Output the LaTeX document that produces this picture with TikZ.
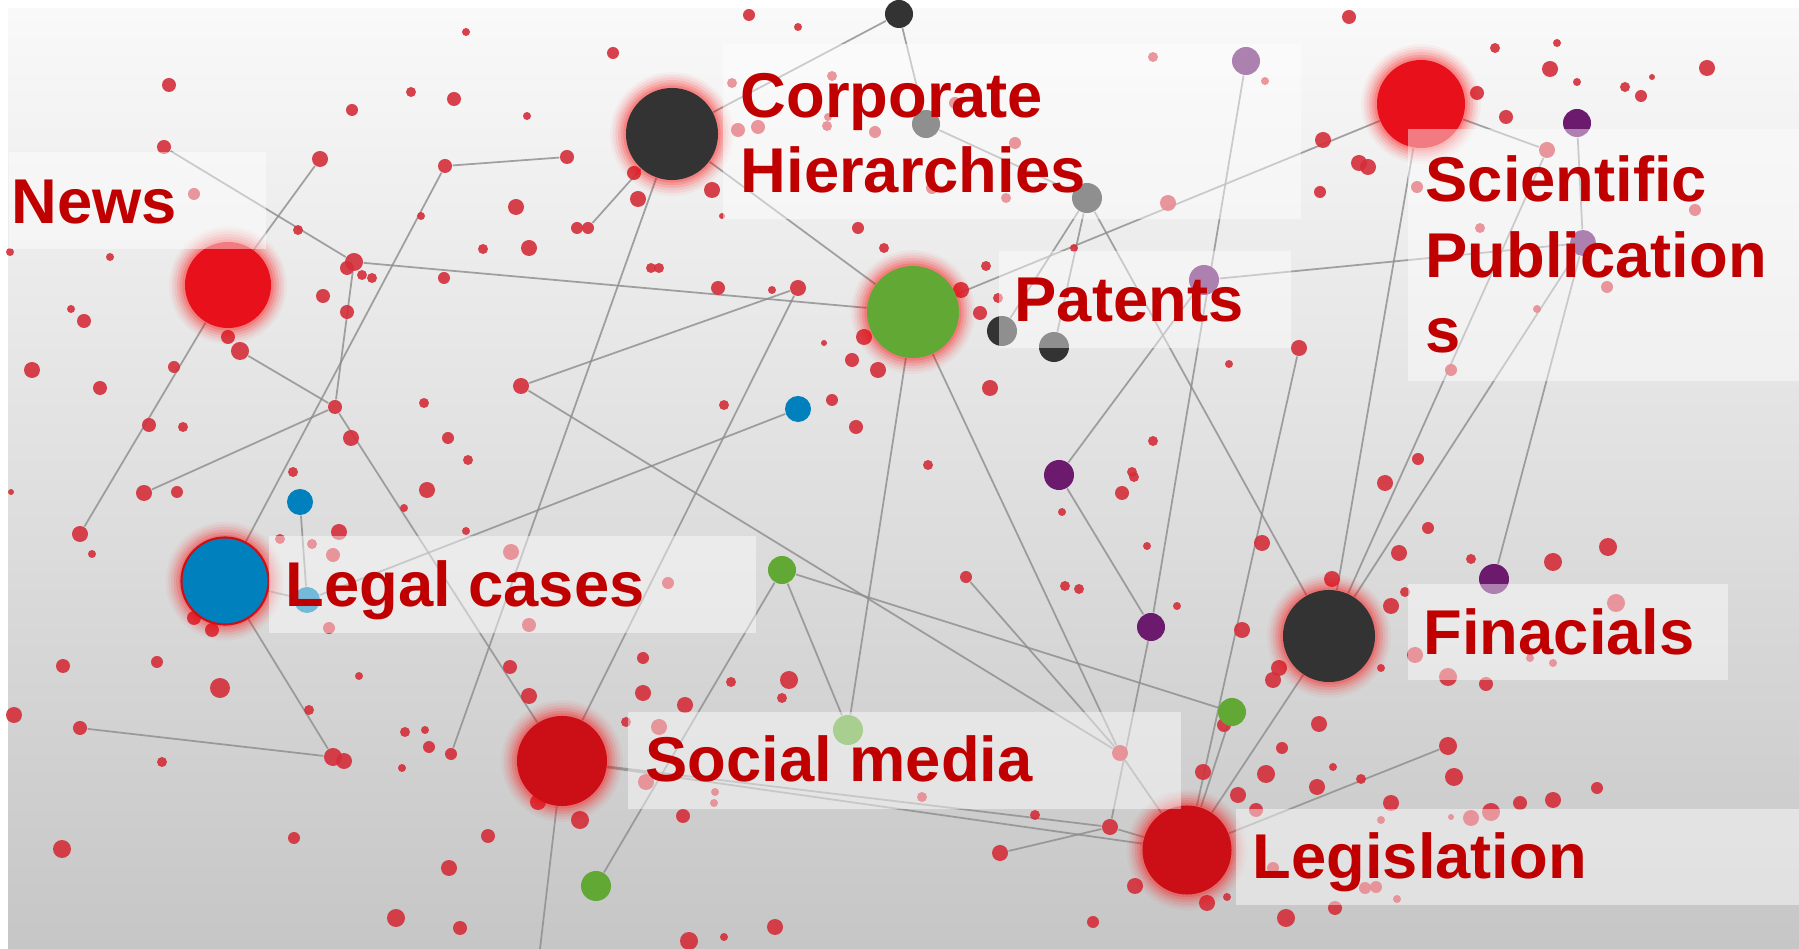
\documentclass[tikz,border=0pt]{standalone}
\usepackage{fontspec}
\setmainfont{Liberation Sans}
\usetikzlibrary{positioning}
\pgfdeclarelayer{back}
\pgfdeclarelayer{edges}
\pgfdeclarelayer{front}
\pgfsetlayers{back,edges,main,front}
\definecolor{lblred}{RGB}{192,0,0}
\definecolor{dotred}{RGB}{212,46,58}
\definecolor{hotred}{RGB}{232,16,26}
\definecolor{deepred}{RGB}{204,14,22}
\definecolor{coal}{RGB}{51,51,51}
\definecolor{leaf}{RGB}{98,168,52}
\definecolor{sea}{RGB}{0,128,188}
\definecolor{plum}{RGB}{107,26,110}
\definecolor{wire}{RGB}{140,140,140}
\definecolor{bgtop}{RGB}{249,249,249}
\definecolor{bgmid}{RGB}{226,226,226}
\definecolor{bgbot}{RGB}{198,198,198}
\tikzset{
  dot/.style={circle, fill=dotred, fill opacity=0.9, inner sep=0pt, minimum size=#1},
  ball/.style={circle, inner sep=0pt, minimum size=#1},
  hub/.style={circle, inner sep=0pt, minimum size=#1,
    preaction={draw=red, draw opacity=0.04, line width=9pt},
    preaction={draw=red, draw opacity=0.06, line width=7.5pt},
    preaction={draw=red, draw opacity=0.08, line width=6pt},
    preaction={draw=red, draw opacity=0.10, line width=4.5pt},
    preaction={draw=red, draw opacity=0.13, line width=3pt},
    preaction={draw=red, draw opacity=0.16, line width=1.5pt}},
  link/.style={draw=wire, line width=0.5pt, draw opacity=0.8},
  lblbox/.style={fill=white, fill opacity=0.45, inner sep=0pt, anchor=north west},
  lbl/.style={text=lblred, font=\fontsize{18}{21.6}\selectfont\bfseries,
    inner sep=0pt, anchor=base west, align=left}
}
\begin{document}
\begin{tikzpicture}[x=0.01cm, y=-0.01cm]
\useasboundingbox (0,0) rectangle (1799,949);
\begin{pgfonlayer}{back}
\fill[white] (0,0) rectangle (1799,949);
\shade[top color=bgtop, middle color=bgmid, bottom color=bgbot] (8,9) rectangle (1799,949);
\end{pgfonlayer}

\foreach \x/\y/\r in {749/15/6, 798/27/4, 466/32/4, 613/53/6, 169/85/7, 411/92/5,
  454/99/7, 352/110/6, 527/116/4, 634/173/7, 712/190/8, 732/83/5, 738/130/7,
  758/127/7, 827/126/5, 875/132/6, 194/194/6, 516/207/8, 638/199/8, 577/228/6,
  421/216/4, 722/216/3, 858/228/6, 298/230/5, 483/249/5, 529/248/8, 884/248/5,
  10/252/4, 110/257/4, 347/268/7, 362/275/5, 372/278/5, 444/278/6, 651/268/5,
  659/268/5, 718/288/7, 772/290/4, 71/309/4, 84/321/7, 323/296/7, 347/312/7,
  228/337/7, 824/343/3, 864/337/8, 852/360/7, 878/370/8, 32/370/8, 100/388/7,
  174/367/6, 424/403/5, 724/405/5, 832/400/6, 149/425/7, 183/427/5, 351/438/8,
  448/438/6, 468/460/5, 856/427/7, 293/472/5, 832/76/5, 828/117/4,
  1349/17/7, 1153/57/5, 1265/81/4, 1495/48/5, 1557/43/4, 1550/69/8, 1577/82/4,
  1625/87/5, 1641/96/6, 1652/77/3, 1707/68/8, 1477/93/7, 1506/117/7, 1323/140/8,
  1359/163/8, 1368/167/8, 1320/192/6, 1015/143/6, 955/103/6, 932/188/6,
  1006/198/5, 1168/203/8, 1417/187/6, 1695/210/6, 1480/228/5, 1607/287/6,
  1537/309/4, 1451/370/6, 1074/248/4, 986/266/5, 961/290/8, 998/298/5, 980/313/7,
  1229/364/4, 990/388/8, 1153/441/5, 928/465/5, 1418/459/6, 1132/472/5,
  11/492/3, 177/492/6, 92/554/4, 427/490/8, 404/508/4, 339/532/8, 466/531/4,
  280/539/5, 312/544/5, 333/555/7, 329/628/6, 511/552/8, 668/583/6, 529/625/7,
  194/618/7, 212/630/7, 63/666/7, 157/662/6, 359/676/4, 220/688/10, 510/667/7,
  643/658/6, 731/682/5, 789/680/9, 782/698/5, 643/693/8, 685/705/8, 529/696/8,
  14/715/8, 309/710/5, 405/732/5, 425/730/4, 429/747/6, 344/761/8, 162/762/5,
  402/768/4, 626/722/5, 659/727/8, 646/782/8, 715/792/4, 714/803/4, 538/802/8,
  580/820/9, 683/816/7, 294/838/6, 488/836/7, 62/849/9, 449/868/8, 396/918/9,
  460/928/7, 689/941/9, 724/937/4, 775/927/8, 922/797/5,
  1134/477/5, 1122/493/7, 1062/512/4, 1385/483/8, 1147/546/4, 1262/543/8,
  1428/528/6, 1399/553/8, 1471/559/5, 1553/562/9, 1608/547/9, 1065/586/5,
  1079/589/5, 1332/579/8, 1405/592/5, 1391/606/8, 1177/606/4, 1242/630/8,
  1279/668/8, 1273/680/8, 1381/668/4, 1415/655/8, 1448/677/9, 1486/684/7,
  1616/603/9, 1530/658/4, 1553/663/4, 1319/724/8, 1224/725/7, 1282/748/6,
  1333/767/4, 1454/777/9, 1203/772/8, 1266/774/9, 1317/787/8, 1361/779/5,
  1597/788/6, 1238/795/8, 1256/810/7, 1391/803/8, 1553/800/8, 1520/803/7,
  1491/812/9, 1471/818/8, 1451/817/3, 1381/820/4, 1035/815/5, 1135/886/8,
  1207/903/8, 1227/897/4, 1273/868/6, 1365/888/6, 1376/887/6, 1397/899/4,
  1286/918/9, 1335/908/7, 1093/922/6}
  \fill[dotred, fill opacity=0.9] (\x,\y) circle (\r);

\node[dot=1.4mm] (a1) at (164,147) {};
\node[dot=1.6mm] (c1) at (320,159) {};
\node[dot=1.8mm] (b1) at (354,262) {};
\node[dot=1.4mm] (d1) at (335,407) {};
\node[dot=1.4mm] (e1) at (445,166) {};
\node[dot=1.4mm] (e2) at (567,157) {};
\node[dot=1.2mm] (f1) at (588,228) {};
\node[dot=1.8mm] (g1) at (240,351) {};
\node[dot=1.6mm] (h1) at (144,493) {};
\node[dot=1.6mm] (k1) at (80,534) {};
\node[dot=1.4mm] (m1) at (80,728) {};
\node[dot=1.8mm] (m2) at (333,757) {};
\node[dot=1.2mm] (p1) at (451,754) {};
\node[dot=1.6mm] (q1) at (521,386) {};
\node[dot=1.6mm] (q2) at (798,288) {};
\node[dot=1.2mm] (r1) at (966,577) {};
\node[dot=1.6mm] (pk) at (1120,753) {};
\node[dot=1.6mm] (s1) at (1110,827) {};
\node[dot=1.6mm] (s2) at (1000,853) {};
\node[dot=1.6mm] (t1) at (1299,348) {};
\node[dot=1.8mm] (u1) at (1448,746) {};
\node[dot=1.6mm] (v1) at (1547,150) {};
\coordinate (sbot) at (540,949);

\node[ball=2.8mm, fill=coal] (topblk) at (899,14) {};
\node[ball=2.8mm, fill=coal] (gry1) at (926,124) {};
\node[ball=3mm, fill=coal] (gry2) at (1087,198) {};
\node[ball=3mm, fill=coal] (blk1) at (1002,331) {};
\node[ball=3mm, fill=coal] (blk2) at (1054,347) {};
\node[ball=2.8mm, fill=plum] (pur1) at (1246,61) {};
\node[ball=2.8mm, fill=plum] (pur2) at (1577,123) {};
\node[ball=3mm, fill=plum] (pur3) at (1204,280) {};
\node[ball=2.6mm, fill=plum] (pur4) at (1583,243) {};
\node[ball=3mm, fill=plum] (pur5) at (1059,475) {};
\node[ball=2.8mm, fill=plum] (pur6) at (1151,627) {};
\node[ball=3mm, fill=plum] (pur7) at (1494,579) {};
\node[ball=2.6mm, fill=sea] (blu1) at (798,409) {};
\node[ball=2.6mm, fill=sea] (blu2) at (300,502) {};
\node[ball=2.6mm, fill=sea] (blu3) at (307,600) {};
\node[ball=2.8mm, fill=leaf] (grn1) at (782,570) {};
\node[ball=3mm, fill=leaf] (grn2) at (848,730) {};
\node[ball=2.8mm, fill=leaf] (grn3) at (1232,712) {};
\node[ball=3mm, fill=leaf] (grn4) at (596,886) {};

\node[hub=8.6mm, fill=hotred] (news) at (228,285) {};
\node[hub=9.2mm, fill=coal] (corp) at (672,134) {};
\node[hub=9.2mm, fill=leaf] (patents) at (913,312) {};
\node[hub=8.8mm, fill=hotred] (sci) at (1421,104) {};
\node[hub=8.7mm, fill=sea, draw=deepred, line width=0.6pt] (legal) at (225,581) {};
\node[hub=9mm, fill=deepred] (social) at (562,761) {};
\node[hub=9.2mm, fill=coal] (fin) at (1329,636) {};
\node[hub=8.9mm, fill=deepred] (legis) at (1187,850) {};

\begin{pgfonlayer}{edges}
\draw[link] (a1) -- (b1) -- (patents);
\draw[link] (c1) -- (news) -- (k1);
\draw[link] (g1) -- (d1) -- (social);
\draw[link] (b1) -- (d1);
\draw[link] (h1) -- (d1);
\draw[link] (e2) -- (e1) -- (legal);
\draw[link] (corp) -- (topblk) -- (gry1) -- (gry2) -- (fin);
\draw[link] (corp) -- (f1);
\draw[link] (corp) -- (p1);
\draw[link] (corp) -- (patents) -- (sci);
\draw[link] (gry2) -- (blk1);
\draw[link] (gry2) -- (blk2);
\draw[link] (pur3) -- (pur4);
\draw[link] (pur1) -- (pur6) -- (s1);
\draw[link] (pur3) -- (pur5) -- (pur6);
\draw[link] (sci) -- (fin);
\draw[link] (sci) -- (v1) -- (fin);
\draw[link] (pur2) -- (pur4) -- (pur7);
\draw[link] (pur4) -- (fin) -- (legis);
\draw[link] (t1) -- (legis);
\draw[link] (patents) -- (pk) -- (legis);
\draw[link] (q1) -- (pk);
\draw[link] (r1) -- (pk);
\draw[link] (grn1) -- (grn3) -- (legis);
\draw[link] (grn4) -- (grn1) -- (grn2) -- (patents);
\draw[link] (q1) -- (q2) -- (social);
\draw[link] (social) -- (s1) -- (legis);
\draw[link] (social) -- (legis);
\draw[link] (s2) -- (s1);
\draw[link] (legis) -- (u1);
\draw[link] (social) -- (sbot);
\draw[link] (legal) -- (blu3) -- (blu2);
\draw[link] (blu3) -- (blu1);
\draw[link] (m1) -- (m2) -- (legal);
\end{pgfonlayer}

\begin{pgfonlayer}{front}
\node[lblbox, minimum width=2.57cm, minimum height=0.97cm] (newsbox) at (8,151) {};
\node[lblbox, minimum width=5.78cm, minimum height=1.75cm] (corpbox) at (722,43) {};
\node[lblbox, minimum width=2.92cm, minimum height=0.97cm] (patbox) at (998,250) {};
\node[lblbox, minimum width=3.92cm, minimum height=2.52cm] (scibox) at (1407,128) {};
\node[lblbox, minimum width=4.87cm, minimum height=0.97cm] (legalbox) at (268,535) {};
\node[lblbox, minimum width=5.53cm, minimum height=0.97cm] (socbox) at (627,711) {};
\node[lblbox, minimum width=3.20cm, minimum height=0.96cm] (finbox) at (1407,583) {};
\node[lblbox, minimum width=5.64cm, minimum height=0.96cm] (legisbox) at (1235,808) {};
\node[lbl] (newslbl) at (11,224) {News};
\node[lbl] (corplbl) at (740,193) {Corporate\\Hierarchies};
\node[lbl] (patlbl) at (1014,322) {Patents};
\node[lbl] (scilbl) at (1425,353) {Scientific\\Publication\\s};
\node[lbl] (legallbl) at (285,607) {Legal cases};
\node[lbl] (soclbl) at (645,782) {Social media};
\node[lbl] (finlbl) at (1423,655) {Finacials};
\node[lbl] (legislbl) at (1252,879) {Legislation};
\end{pgfonlayer}
\end{tikzpicture}
\end{document}
